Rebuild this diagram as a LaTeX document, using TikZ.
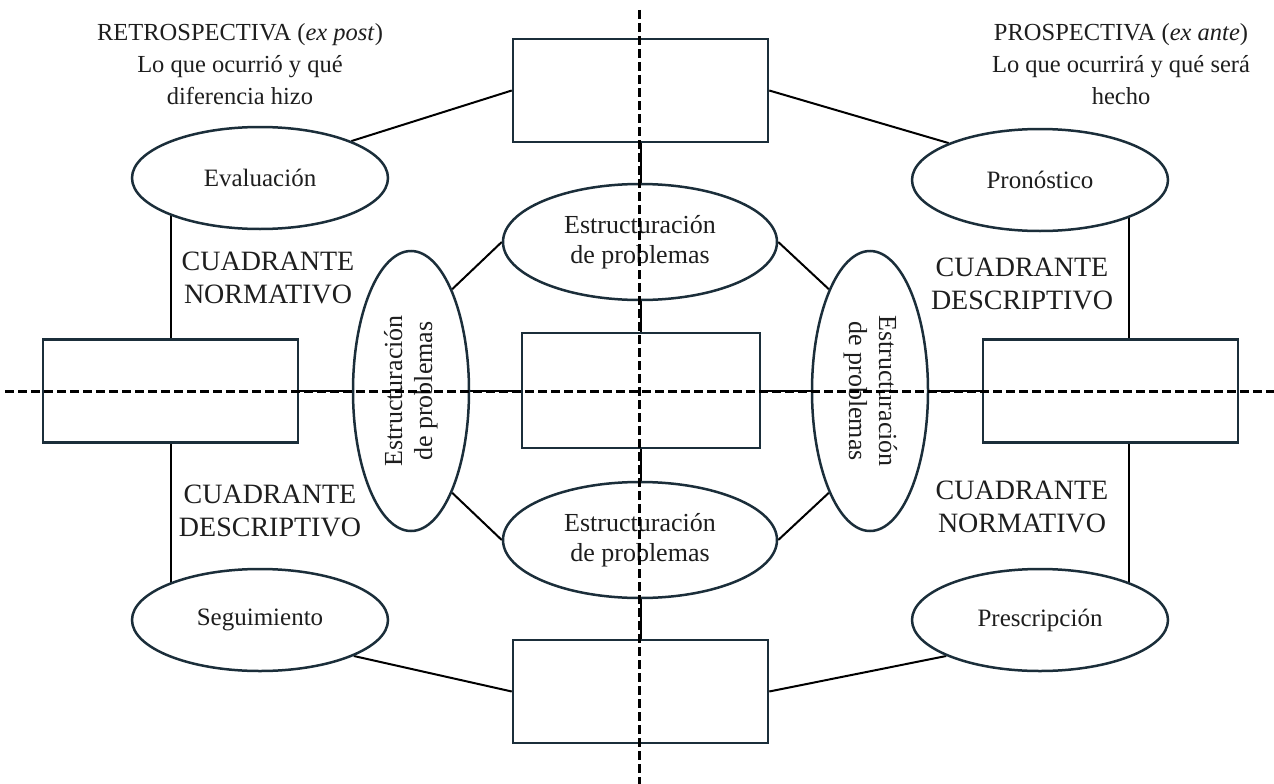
\documentclass[tikz,border=0pt]{standalone}
\usepackage{fontspec}
\setmainfont{Liberation Serif}
\usetikzlibrary{shapes.geometric}
\pgfdeclarelayer{bg}
\pgfdeclarelayer{fg}
\pgfsetlayers{bg,main,fg}
\definecolor{edge}{HTML}{1B2E3A}
\definecolor{ink}{HTML}{1E1E1E}
\tikzset{
  box/.style={draw=edge, line width=2.5pt, fill=white, minimum width=255pt,
    minimum height=103pt, inner sep=0pt},
  oval/.style={ellipse, draw=edge, line width=2.5pt, fill=white, inner sep=0pt,
    text=ink, font=\fontsize{25}{30}\selectfont, minimum width=256pt, minimum height=102pt},
  core/.style={oval, minimum width=274pt, minimum height=116pt,
    font=\fontsize{26}{30}\selectfont, align=center},
  side/.style={oval, minimum width=116pt, minimum height=280pt,
    font=\fontsize{26}{30}\selectfont},
  link/.style={line width=2pt, black},
  axis/.style={line width=3pt, black, dash pattern=on 9pt off 4pt},
  quad/.style={text=ink, font=\fontsize{28}{33}\selectfont, align=center,
    inner sep=0pt, anchor=base},
  head/.style={text=ink, font=\fontsize{24.5}{32}\selectfont, align=center,
    inner sep=0pt, anchor=base},
}
\newcommand{\twolines}{\begin{tabular}{@{}c@{}}Estructuración\\de problemas\end{tabular}}

\begin{document}
\begin{tikzpicture}[x=1pt,y=-1pt]
\useasboundingbox (0,0) rectangle (1274,784);

% empty boxes
\node[box] (top) at (640.5,90.5) {};
\node[box] (bot) at (640.5,691.5) {};
\node[box] (lft) at (170.5,391) {};
\node[box] (rgt) at (1110.5,391) {};
\node[box, minimum width=238pt, minimum height=115pt] (mid) at (641,390.5) {};

% outer ellipses
\node[oval] (eva) at (260,178) {Evaluación};
\node[oval] (pro) at (1040,180) {Pronóstico};
\node[oval] (seg) at (260,620) {Seguimiento};
\node[oval] (pre) at (1040,620) {Prescripción};

% inner ring of problem structuring
\node[core] (est) at (640,242) {Estructuración\\de problemas};
\node[core] (esb) at (640,540) {Estructuración\\de problemas};
\node[side] (esl) at (411,391) {\rotatebox{90}{\twolines}};
\node[side] (esr) at (870,391) {\rotatebox{-90}{\twolines}};

% labels (anchored on the baseline of their last line)
\node[head] (retro) at (240,104) {RETROSPECTIVA (\textit{ex post})\\Lo que ocurrió y qué\\diferencia hizo};
\node[head] (prosp) at (1121,104) {PROSPECTIVA (\textit{ex ante})\\Lo que ocurrirá y qué será\\hecho};
\node[quad] (qnl) at (268,303) {CUADRANTE\\NORMATIVO};
\node[quad] (qdl) at (270,536) {CUADRANTE\\DESCRIPTIVO};
\node[quad] (qdr) at (1022,309) {CUADRANTE\\DESCRIPTIVO};
\node[quad] (qnr) at (1022,532) {CUADRANTE\\NORMATIVO};

% connectors, under the shapes
\begin{pgfonlayer}{bg}
  \coordinate (lx) at ([xshift=-89pt]eva.center);
  \coordinate (rx) at ([xshift=89pt]pro.center);
  \draw[link] (eva.22) -- (top.west);
  \draw[link] (top.east) -- (pro.158);
  \draw[link] (seg.-21) -- (bot.west);
  \draw[link] (bot.east) -- (pre.-159);
  \draw[link] (lx) -- (lx |- lft.north);
  \draw[link] (lx |- lft.south) -- (lx |- seg.center);
  \draw[link] (rx) -- (rx |- rgt.north);
  \draw[link] (rx |- rgt.south) -- (rx |- pre.center);
  \draw[link] (est.west) -- (esl.68);
  \draw[link] (est.east) -- (esr.112);
  \draw[link] (esb.west) -- (esl.-68);
  \draw[link] (esb.east) -- (esr.-112);
  \draw[link] (lft.east) -- (rgt.west);
  \draw[link] (top.south) -- (bot.north);
\end{pgfonlayer}

% dashed axes on top
\begin{pgfonlayer}{fg}
  \coordinate (vt) at (639,10);
  \coordinate (vb) at (639,784);
  \coordinate (hl) at (5,391);
  \coordinate (hr) at (1274,391);
  \draw[axis] (vt) -- (vb);
  \draw[axis] (hl) -- (hr);
\end{pgfonlayer}
\end{tikzpicture}
\end{document}
